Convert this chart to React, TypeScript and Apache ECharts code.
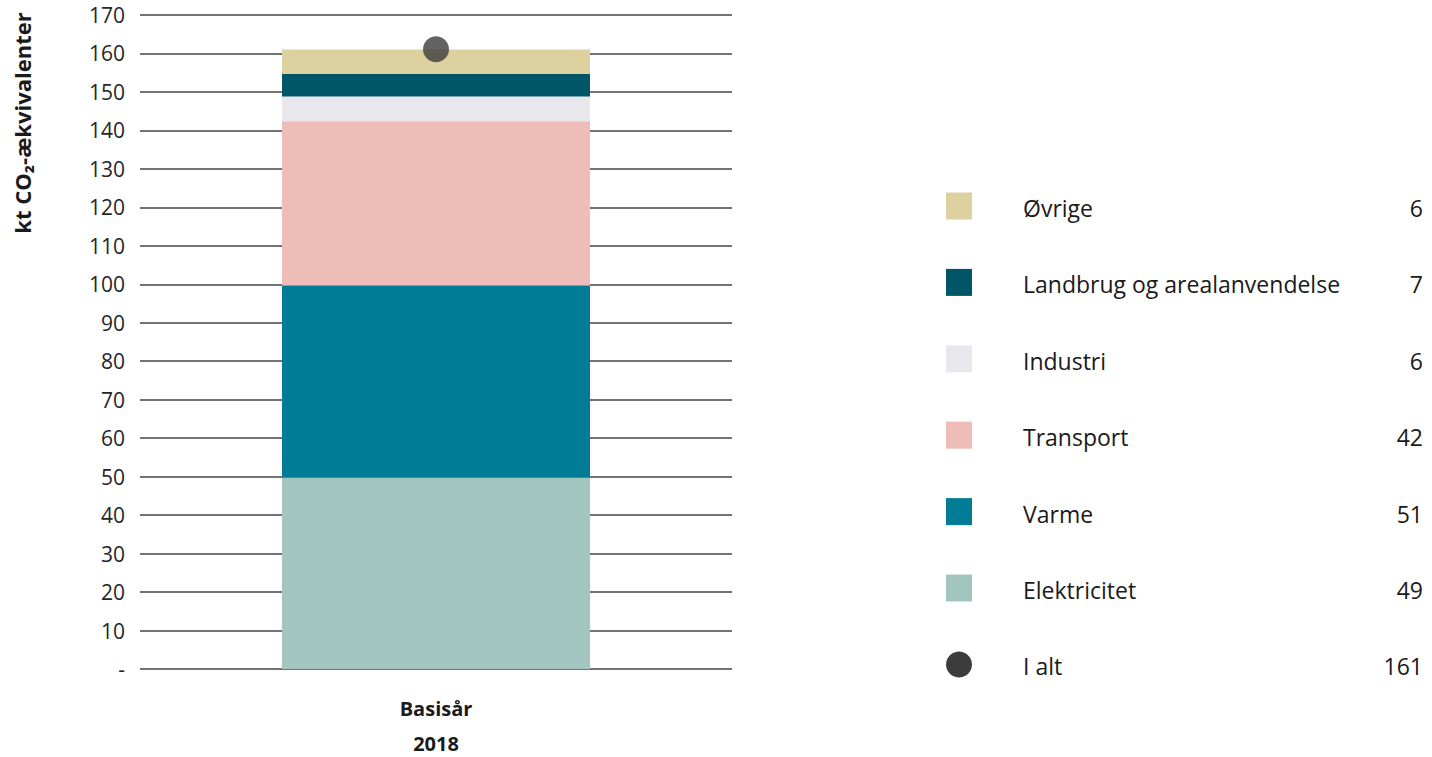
import React, { useEffect, useRef } from "react";
import * as echarts from "echarts";

// ---- data ----
const categories = ["Basisår"];
const categoryYears = ["2018"];
const sectorNames = [
  "Elektricitet",
  "Varme",
  "Transport",
  "Industri",
  "Landbrug og arealanvendelse",
  "Øvrige",
];
const sectorValues = [49.8, 49.9, 42.7, 6.4, 5.9, 6.3];
const legendValues = [49, 51, 42, 6, 7, 6];
const totalName = "I alt";
const totalValues = [161.1];
const totalLegendValue = 161;
const yTicks = { min: 0, max: 170, interval: 10 };
const yAxisTitle = "kt CO₂-ækvivalenter";

// ---- styles ----
const sectorColors = ["#A3C5BF", "#007C96", "#EFBDB8", "#E8E8EC", "#005566", "#DDD1A0"];
const totalColor = "#3C3C3C";
const FONT = "'Open Sans', 'Noto Sans', sans-serif";

export default function App() {
  const ref = useRef<HTMLDivElement>(null);

  useEffect(() => {
    if (!ref.current) return;
    const chart = echarts.init(ref.current, null, { renderer: "svg" });

    const barSeries = sectorNames.map((name, i) => ({
      name,
      type: "bar",
      stack: "total",
      barWidth: 308,
      xAxisIndex: 0,
      itemStyle: { color: sectorColors[i] },
      data: [sectorValues[i]],
      z: 3,
    }));

    const rowStart = 206;
    const rowStep = 76.4;
    const g: any[] = [];
    const textStyle = (text: string, align: string) => ({
      text,
      font: `23px ${FONT}`,
      fill: "#1a1a1a",
      textVerticalAlign: "middle",
      textAlign: align,
    });
    const order = sectorNames.map((_, i) => sectorNames.length - 1 - i);
    order.forEach((idx, r) => {
      const cy = rowStart + r * rowStep;
      g.push({
        type: "rect",
        shape: { x: 946, y: cy - 13.5, width: 26, height: 27 },
        style: { fill: sectorColors[idx] },
      });
      g.push({ type: "text", x: 1023, y: cy + 2, style: textStyle(sectorNames[idx], "left") });
      g.push({ type: "text", x: 1423, y: cy + 2, style: textStyle(String(legendValues[idx]), "right") });
    });
    const tcy = rowStart + sectorNames.length * rowStep;
    g.push({ type: "circle", shape: { cx: 959, cy: tcy, r: 13 }, style: { fill: totalColor } });
    g.push({ type: "text", x: 1023, y: tcy + 2, style: textStyle(totalName, "left") });
    g.push({ type: "text", x: 1423, y: tcy + 2, style: textStyle(String(totalLegendValue), "right") });
    g.push({
      type: "text",
      x: 22,
      y: 123,
      rotation: Math.PI / 2,
      style: {
        text: yAxisTitle,
        font: `bold 22px ${FONT}`,
        fill: "#1a1a1a",
        textVerticalAlign: "middle",
        textAlign: "center",
      },
    });

    const xLabel = (margin: number) => ({
      margin,
      fontFamily: FONT,
      fontWeight: "bold",
      fontSize: 20,
      color: "#1a1a1a",
      lineHeight: 20,
    });

    chart.setOption({
      animation: false,
      backgroundColor: "#ffffff",
      grid: {
        left: 140,
        width: 592,
        top: 15,
        height: 654,
        containLabel: false,
        outerBoundsMode: "none",
      },
      xAxis: [
        {
          type: "category",
          position: "bottom",
          data: categories,
          axisLine: { show: false },
          axisTick: { show: false },
          axisLabel: xLabel(29),
        },
        {
          type: "category",
          position: "bottom",
          data: categoryYears,
          axisLine: { show: false },
          axisTick: { show: false },
          splitLine: { show: false },
          axisLabel: xLabel(64),
        },
      ],
      yAxis: {
        type: "value",
        min: yTicks.min,
        max: yTicks.max,
        interval: yTicks.interval,
        axisLine: { show: false },
        axisTick: { show: false },
        axisLabel: {
          margin: 15,
          fontFamily: FONT,
          fontSize: 21,
          color: "#262626",
          formatter: (v: number) => (v === 0 ? "-" : String(v)),
        },
        splitLine: { lineStyle: { color: "#444444", width: 1.6 } },
      },
      series: [
        ...barSeries,
        {
          name: totalName,
          type: "scatter",
          xAxisIndex: 0,
          symbol: "circle",
          symbolSize: 26,
          itemStyle: { color: totalColor },
          data: totalValues,
          z: 5,
        },
      ],
      graphic: g,
    });

    return () => chart.dispose();
  }, []);

  return (
    <div
      ref={ref}
      style={{ position: "fixed", left: 0, top: 0, width: 1432, height: 757 }}
    />
  );
}
